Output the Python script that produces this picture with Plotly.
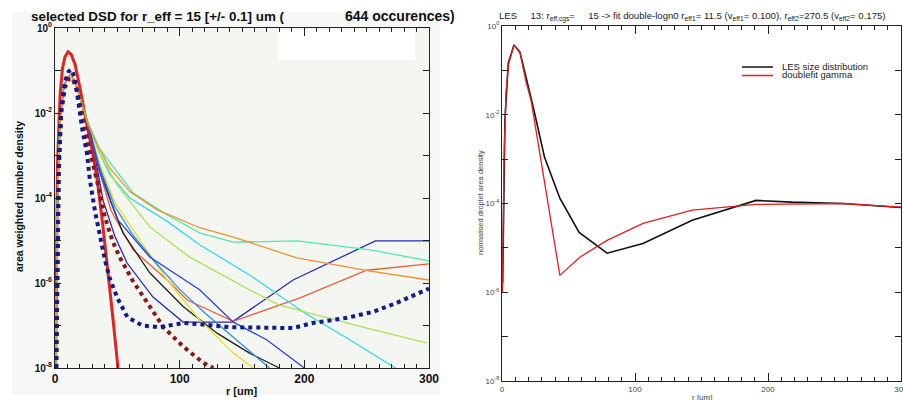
import numpy as np
import plotly.graph_objects as go

W, H = 903, 400

# ---------------- left panel data (r in um, log10 of density) ----------------
pre_r = [0.5, 2, 4, 7, 10, 13, 17, 21, 26]
pre_log = [-8, -4, -2.2, -1.4, -1.15, -1.1, -1.35, -1.75, -2.2]

red_fit_r = [0.5, 2, 4, 6, 8, 10.5, 13, 16, 20, 25, 30, 34, 38, 42, 46, 50.5]
red_fit_log = [-8, -3.2, -1.6, -0.95, -0.68, -0.56, -0.62, -0.85, -1.4, -2.2, -2.9, -3.6, -4.55, -5.6, -6.7, -8]

navy_dot_r = [1, 3, 5, 8, 11, 13.5, 16, 18.5, 22, 25.6, 28, 32, 36, 40, 44, 50, 58, 70, 84, 103, 120, 140, 165, 191, 207, 234, 255, 274, 300]
navy_dot_log = [-8, -3.2, -1.9, -1.25, -1.02, -0.98, -1.2, -1.76, -2.4, -2.94, -3.58, -4.3, -4.9, -5.45, -5.9, -6.35, -6.8, -7.0, -7.04, -6.94, -6.98, -7.04, -7.05, -7.06, -6.94, -6.82, -6.68, -6.47, -6.13]

maroon_dot_r = [1, 3, 5, 8, 11, 14, 18, 22, 28, 34.5, 40, 46, 52, 62, 74, 87, 103, 119, 127]
maroon_dot_log = [-8, -3.4, -2.0, -1.4, -1.2, -1.18, -1.5, -2.1, -2.9, -3.7, -4.45, -5.0, -5.4, -5.93, -6.47, -7.04, -7.5, -7.88, -8.0]

thin_names = ["A", "B", "C", "D", "E", "F", "G", "H", "I", "J"]
thin_colors = ["#2a2ab8", "#e8603c", "#202020", "#e6e020", "#2f8fe6",
               "#3040d0", "#30d8e8", "#b0e050", "#50e8b0", "#f0902a"]
thin_r = {
    "A": [32, 38.5, 48, 57.8, 78.6, 102.7, 142, 191, 257, 300],
    "B": [35, 45, 62.6, 90, 106, 143, 196.5, 250, 300],
    "C": [35, 45, 54.5, 76, 103, 130, 156, 180],
    "D": [36, 48, 62.6, 90, 116, 143, 159],
    "E": [36, 48, 62, 80, 100, 120, 140, 172],
    "F": [36, 50, 76, 116, 143, 170, 200],
    "G": [35, 44, 60, 90, 116, 156, 200, 240, 273],
    "H": [36, 50, 76, 108, 156, 180, 247, 298],
    "I": [36, 62.6, 90, 116, 143, 194, 253, 300],
    "J": [33, 44, 60, 82, 116, 143, 194, 253, 300],
}
thin_log = {
    "A": [-3.0, -4.05, -4.9, -5.53, -6.33, -6.92, -6.92, -5.93, -5.01, -5.01],
    "B": [-3.3, -4.3, -5.22, -5.93, -6.4, -6.9, -6.35, -5.7, -5.55],
    "C": [-3.2, -4.1, -4.82, -5.76, -6.56, -7.18, -7.65, -8.0],
    "D": [-3.2, -4.1, -4.75, -5.93, -6.87, -7.65, -8.0],
    "E": [-3.3, -4.2, -4.85, -5.5, -6.15, -6.7, -7.2, -8.0],
    "F": [-3.4, -4.5, -5.39, -6.16, -6.92, -7.34, -8.0],
    "G": [-2.9, -3.45, -4.0, -4.55, -5.1, -5.81, -6.7, -7.4, -8.0],
    "H": [-2.95, -3.7, -4.68, -5.39, -6.16, -6.52, -7.04, -7.41],
    "I": [-2.85, -3.88, -4.4, -4.82, -5.04, -5.01, -5.22, -5.48],
    "J": [-2.7, -3.3, -3.85, -4.28, -4.7, -4.92, -5.41, -5.72, -5.93],
}

# ---------------- right panel data ----------------
les_r = [0.5, 2.2, 4.7, 9, 13.5, 18.7, 23.5, 32, 43.5, 58, 79, 106, 143, 191, 218, 256, 300]
les_log = [-5.8, -2.12, -0.84, -0.43, -0.59, -1.22, -1.83, -2.96, -3.88, -4.65, -5.12, -4.9, -4.38, -3.93, -3.97, -4.0, -4.09]
gam_r = [0.3, 1.5, 3, 5, 9, 13.5, 18, 22, 43.5, 58.5, 79, 106, 143, 191, 256, 300]
gam_log = [-6.0, -3.0, -1.5, -0.85, -0.43, -0.6, -1.25, -1.7, -5.62, -5.21, -4.83, -4.45, -4.15, -4.02, -4.0, -4.08]

legend_names = ["LES size distribution", "doublefit gamma"]
legend_colors = ["#111111", "#e02020"]

decades = [0, -1, -2, -3, -4, -5, -6, -7, -8]
dec_vals = [10.0 ** d for d in decades]
dec_text = [("10<sup>%d</sup>" % d) if d % 2 == 0 else "" for d in decades]


def px(x):
    return x / W


def py(y):
    return 1 - y / H


fig = go.Figure()

# left
fig.add_trace(go.Scatter(x=red_fit_r, y=np.power(10.0, red_fit_log), mode="lines",
                         line=dict(color="#e02424", width=3), xaxis="x", yaxis="y", showlegend=False))
for n, c in zip(thin_names, thin_colors):
    fig.add_trace(go.Scatter(x=pre_r + thin_r[n], y=np.power(10.0, pre_log + thin_log[n]), mode="lines",
                             line=dict(color=c, width=1.3), xaxis="x", yaxis="y", showlegend=False))
fig.add_trace(go.Scatter(x=maroon_dot_r, y=np.power(10.0, maroon_dot_log), mode="lines",
                         line=dict(color="#8a1a1a", width=4, dash="dot"), xaxis="x", yaxis="y", showlegend=False))
fig.add_trace(go.Scatter(x=navy_dot_r, y=np.power(10.0, navy_dot_log), mode="lines",
                         line=dict(color="#121a8c", width=4, dash="dot"), xaxis="x", yaxis="y", showlegend=False))

# right
fig.add_trace(go.Scatter(x=les_r, y=np.power(10.0, les_log), mode="lines", name=legend_names[0],
                         line=dict(color=legend_colors[0], width=1.6), xaxis="x2", yaxis="y2", showlegend=False))
fig.add_trace(go.Scatter(x=gam_r, y=np.power(10.0, gam_log), mode="lines", name=legend_names[1],
                         line=dict(color=legend_colors[1], width=1.3), xaxis="x2", yaxis="y2", showlegend=False))

bold = dict(family="Liberation Sans, Arial", size=11, color="#111", weight="bold")
thin = dict(family="Liberation Sans Narrow, Liberation Sans, Arial", size=8, color="#444")

common_x = dict(range=[0, 300], tickvals=[0, 100, 200, 300], ticks="inside", ticklen=8,
                tickcolor="#222", showline=True, linecolor="#222", linewidth=1, mirror="ticks",
                showgrid=False, zeroline=False, automargin=False, ticklabeloverflow="allow",
                minor=dict(dtick=10, ticks="inside", ticklen=4, tickcolor="#222", showgrid=False))
common_y = dict(type="log", range=[-8, 0], tickvals=dec_vals, ticktext=dec_text, ticks="inside",
                ticklen=6, tickcolor="#222", showline=True, linecolor="#222", linewidth=1,
                mirror="ticks", showgrid=False, zeroline=False, automargin=False)

shapes = [
    dict(type="rect", xref="paper", yref="paper", x0=px(12), x1=px(440), y0=py(395), y1=py(12),
         fillcolor="#f7f8f5", line=dict(width=0), layer="below"),
    dict(type="rect", xref="paper", yref="paper", x0=px(55), x1=px(429), y0=py(368), y1=py(28),
         fillcolor="#f4f7f1", line=dict(width=0), layer="below"),
    dict(type="rect", xref="paper", yref="paper", x0=px(278), x1=px(415), y0=py(60), y1=py(30),
         fillcolor="white", line=dict(width=0), layer="below"),
]
title_font = dict(family="Liberation Sans, Arial", size=13.4, color="#111", weight="bold")
annotations = [
    dict(text="selected DSD for r_eff = 15 [+/- 0.1] um (", xref="paper", yref="paper",
         x=px(29), y=py(16), xanchor="left", yanchor="middle", showarrow=False, font=title_font),
    dict(text="644 occurences)", xref="paper", yref="paper",
         x=px(343), y=py(16), xanchor="left", yanchor="middle", showarrow=False,
         font=dict(title_font, size=14)),
    dict(text="area weighted number density", xref="paper", yref="paper", x=px(19), y=py(197),
         textangle=-90, showarrow=False, xanchor="center", yanchor="middle",
         font=dict(family="Liberation Sans, Arial", size=10.5, color="#111", weight="bold")),
    dict(text="r [um]", xref="paper", yref="paper", x=px(242), y=py(391), showarrow=False,
         xanchor="center", yanchor="middle",
         font=dict(family="Liberation Sans, Arial", size=11, color="#111", weight="bold")),
    dict(text="LES     13: r<sub>eff,cgs</sub>=     15 -> fit double-logn0 r<sub>eff1</sub>= 11.5 (v<sub>eff1</sub>= 0.100), r<sub>eff2</sub>=270.5 (v<sub>eff2</sub>= 0.175)",
         xref="paper", yref="paper", x=px(497), y=py(16), xanchor="left", yanchor="middle", showarrow=False,
         font=dict(family="Liberation Sans Narrow, Liberation Sans, Arial", size=9.6, color="#222")),
    dict(text="normalised droplet area density", xref="paper", yref="paper", x=px(481), y=py(203),
         textangle=-90, showarrow=False, xanchor="center", yanchor="middle",
         font=dict(family="Liberation Sans Narrow, Liberation Sans, Arial", size=7.5, color="#444")),
    dict(text="r [um]", xref="paper", yref="paper", x=px(702), y=py(397), showarrow=False,
         xanchor="center", yanchor="middle",
         font=dict(family="Liberation Sans Narrow, Liberation Sans, Arial", size=8, color="#444")),
]
# legend (right panel)
for i, (nm, col) in enumerate(zip(legend_names, legend_colors)):
    yy = 67 + 8.5 * i
    shapes.append(dict(type="line", xref="paper", yref="paper", x0=px(742), x1=px(773),
                       y0=py(yy), y1=py(yy), line=dict(color=col, width=1.5)))
    annotations.append(dict(text=nm, xref="paper", yref="paper", x=px(780), y=py(yy - 1),
                            xanchor="left", yanchor="middle", showarrow=False,
                            font=dict(family="Liberation Sans Narrow, Liberation Sans, Arial", size=9.5, color="#222")))

fig.update_layout(
    width=W, height=H, margin=dict(l=0, r=0, t=0, b=0),
    paper_bgcolor="white", plot_bgcolor="rgba(0,0,0,0)",
    xaxis=dict(domain=[px(55), px(429)], anchor="y", tickfont=dict(bold, size=12), **common_x),
    yaxis=dict(domain=[py(368), py(28)], anchor="x", tickfont=dict(bold, size=10), **common_y),
    xaxis2=dict(domain=[px(502), px(901)], anchor="y2", tickfont=thin, **common_x),
    yaxis2=dict(domain=[py(381), py(26)], anchor="x2", tickfont=thin, **common_y),
    shapes=shapes, annotations=annotations,
)

fig.write_html("out.html", config={"displayModeBar": False},
               post_script="document.body.style.margin='0';document.body.style.overflow='hidden';")
